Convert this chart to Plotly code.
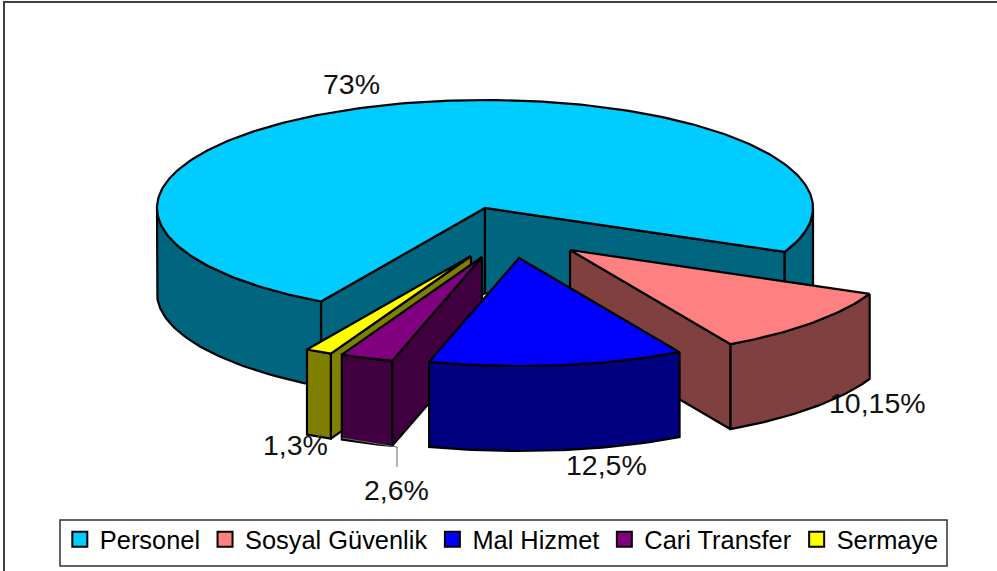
import numpy as np
import plotly.graph_objects as go

# Budget shares, as printed on the chart
categories = ["Personel", "Sosyal Güvenlik", "Mal Hizmet", "Cari Transfer", "Sermaye"]
values = [73, 10.15, 12.5, 2.6, 1.3]
value_labels = ["73%", "10,15%", "12,5%", "2,6%", "1,3%"]

COLORS = ["#00CCFF", "#FF8080", "#0000FF", "#800080", "#FFFF00"]
DARK = ["#006680", "#804040", "#000080", "#400040", "#808000"]

# Fake 3D pie: ellipse in pixel space, plus how far each slice is pulled out
CX, CY, RX, RY, DEPTH = 485, 208, 328, 108, 85
START_ANGLE = 210
EXPLODE = [(0, 0), (85, 42), (34, 50), (-3, 49), (-14, 48)]
DRAW_ORDER = [0, 4, 3, 1, 2]
LABEL_POS = [(351, 84), (877, 403), (606, 465), (396, 490), (295, 445)]
FONT = "Liberation Sans"


def arc(a0, a1, dx, dy, drop=0):
    t = np.radians(np.linspace(a0, a1, max(2, int(abs(a1 - a0)) + 2)))
    return CX + dx + RX * np.sin(t), CY + dy + drop - RY * np.cos(t)


def add_poly(fig, xs, ys, color):
    fig.add_trace(
        go.Scatter(
            x=np.append(xs, xs[0]),
            y=np.append(ys, ys[0]),
            mode="lines",
            fill="toself",
            fillcolor=color,
            line=dict(color="black", width=2.2),
            hoverinfo="skip",
            showlegend=False,
        )
    )


def add_slice(fig, start, end, dx, dy, color, dark):
    # flat cut faces, only when they look towards the viewer
    for angle, normal in ((start, start - 90), (end, end + 90)):
        if -np.cos(np.radians(normal)) > 0:
            ex, ey = arc(angle, angle, dx, dy)
            xs = np.array([CX + dx, ex[0], ex[0], CX + dx])
            ys = np.array([CY + dy, ey[0], ey[0] + DEPTH, CY + dy + DEPTH])
            add_poly(fig, xs, ys, dark)

    # outer wall, front half of the rim only (90..270 deg clockwise from the top)
    for turn in (0, 360):
        a0, a1 = max(start, 90 + turn), min(end, 270 + turn)
        if a1 > a0:
            tx, ty = arc(a0, a1, dx, dy)
            bx, by = arc(a1, a0, dx, dy, DEPTH)
            add_poly(fig, np.concatenate([tx, bx]), np.concatenate([ty, by]), dark)

    tx, ty = arc(start, end, dx, dy)
    add_poly(fig, np.append(tx, CX + dx), np.append(ty, CY + dy), color)


fig = go.Figure()

sweeps = np.array(values) / sum(values) * 360
starts = START_ANGLE + np.concatenate([[0], np.cumsum(sweeps)[:-1]])

for i in DRAW_ORDER:
    add_slice(fig, starts[i], starts[i] + sweeps[i], *EXPLODE[i], COLORS[i], DARK[i])

for name, color in zip(categories, COLORS):
    fig.add_trace(
        go.Scatter(
            x=[None],
            y=[None],
            mode="markers",
            name=name,
            marker=dict(symbol="square", size=15, color=color, line=dict(color="black", width=2)),
        )
    )

annotations = [
    dict(x=x, y=y, text=text, showarrow=False, xref="x", yref="y",
         font=dict(family=FONT, size=28.5, color="#111111"))
    for text, (x, y) in zip(value_labels, LABEL_POS)
]

fig.update_layout(
    width=997,
    height=571,
    margin=dict(l=0, r=0, t=0, b=0),
    plot_bgcolor="white",
    paper_bgcolor="white",
    xaxis=dict(range=[0, 997], visible=False, fixedrange=True),
    yaxis=dict(range=[571, 0], visible=False, fixedrange=True),
    annotations=annotations,
    showlegend=True,
    legend=dict(
        orientation="h",
        x=0.060,
        y=0.0135,
        xanchor="left",
        yanchor="bottom",
        font=dict(family=FONT, size=25.4, color="black"),
        bgcolor="rgba(0,0,0,0)",
        traceorder="normal",
    ),
    shapes=[
        # chart frame is cut off by the picture: only top and left edges show
        dict(type="path", path="M 4 571 L 4 2 L 997 2", line=dict(color="#404040", width=2), layer="below"),
        dict(type="rect", x0=60, y0=520, x1=947, y1=566, line=dict(color="#303030", width=1.5), layer="below"),
        # leader lines
        dict(type="path", path="M 342 438 L 397 447 L 397 467", line=dict(color="#666666", width=1)),
        dict(type="line", x0=322, y0=433, x1=318, y1=437, line=dict(color="#666666", width=1)),
    ],
)

fig.write_html(
    "out.html",
    config=dict(displayModeBar=False),
    post_script="document.body.style.margin='0';",
)
